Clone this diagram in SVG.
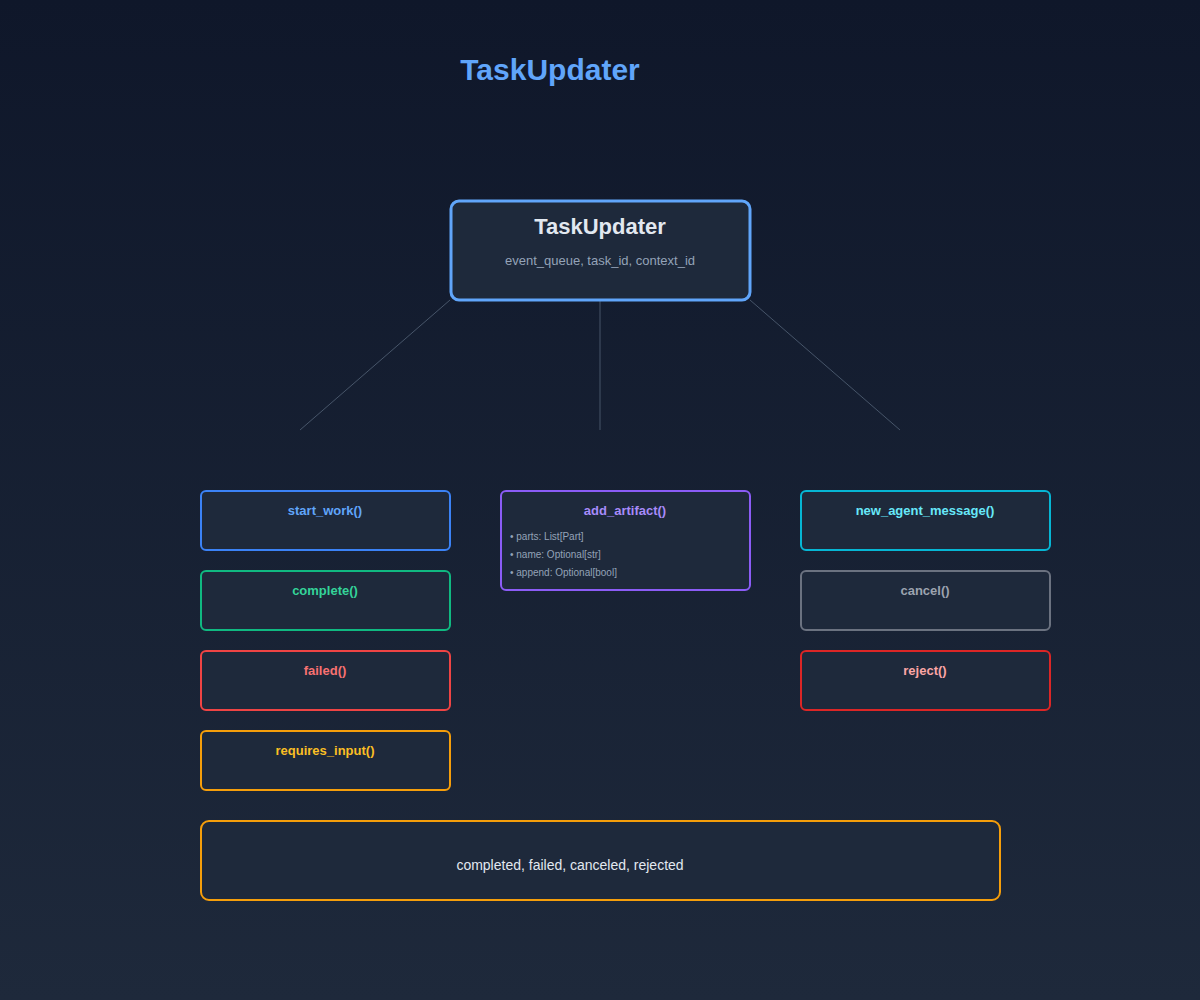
<svg xmlns="http://www.w3.org/2000/svg" width="1200" height="1000" viewBox="0 0 1200 1000">
<defs>
<linearGradient id="bg" x1="0" y1="0" x2="0" y2="1"><stop offset="0" stop-color="#0f172a"/><stop offset="1" stop-color="#1e293b"/></linearGradient>
<style>
.n{fill:#1e293b;stroke-width:2}
.t{font-family:"Liberation Sans",Arial,sans-serif;font-weight:bold;font-size:13px;text-anchor:middle}
.s{font-family:"Liberation Sans",Arial,sans-serif;font-size:10px;fill:#94a3b8}
.c{stroke:#475569;stroke-width:1;fill:none}
</style>
</defs>
<rect width="1200" height="1000" fill="url(#bg)"/>
<text x="550" y="80" font-family="Liberation Sans,Arial,sans-serif" font-size="30" font-weight="bold" fill="#60a5fa" text-anchor="middle">TaskUpdater</text>
<g id="connectors">
<line class="c" x1="450" y1="300" x2="300" y2="430"/>
<line class="c" x1="600" y1="300" x2="600" y2="430"/>
<line class="c" x1="750" y1="300" x2="900" y2="430"/>
</g>
<g id="root"><rect x="451" y="201" width="299" height="99" rx="8" fill="#1e293b" stroke="#60a5fa" stroke-width="3"/>
<text x="600" y="234" font-family="Liberation Sans,Arial,sans-serif" font-size="22" font-weight="bold" fill="#e2e8f0" text-anchor="middle">TaskUpdater</text>
<text x="600" y="265" font-family="Liberation Sans,Arial,sans-serif" font-size="13" fill="#94a3b8" text-anchor="middle">event_queue, task_id, context_id</text></g>
<g id="start_work"><rect class="n" x="201" y="491" width="249" height="59" rx="5" stroke="#3b82f6"/><text class="t" x="325" y="515" fill="#60a5fa">start_work()</text></g>
<g id="complete"><rect class="n" x="201" y="571" width="249" height="59" rx="5" stroke="#10b981"/><text class="t" x="325" y="595" fill="#34d399">complete()</text></g>
<g id="failed"><rect class="n" x="201" y="651" width="249" height="59" rx="5" stroke="#ef4444"/><text class="t" x="325" y="675" fill="#f87171">failed()</text></g>
<g id="requires_input"><rect class="n" x="201" y="731" width="249" height="59" rx="5" stroke="#f59e0b"/><text class="t" x="325" y="755" fill="#fbbf24">requires_input()</text></g>
<g id="add_artifact"><rect class="n" x="501" y="491" width="249" height="99" rx="5" stroke="#8b5cf6"/><text class="t" x="625" y="515" fill="#a78bfa">add_artifact()</text>
<text class="s" x="510" y="540">• parts: List[Part]</text><text class="s" x="510" y="558">• name: Optional[str]</text><text class="s" x="510" y="576">• append: Optional[bool]</text></g>
<g id="new_agent_message"><rect class="n" x="801" y="491" width="249" height="59" rx="5" stroke="#06b6d4"/><text class="t" x="925" y="515" fill="#67e8f9">new_agent_message()</text></g>
<g id="cancel"><rect class="n" x="801" y="571" width="249" height="59" rx="5" stroke="#6b7280"/><text class="t" x="925" y="595" fill="#9ca3af">cancel()</text></g>
<g id="reject"><rect class="n" x="801" y="651" width="249" height="59" rx="5" stroke="#dc2626"/><text class="t" x="925" y="675" fill="#fca5a5">reject()</text></g>
<g id="terminal"><rect class="n" x="201" y="821" width="799" height="79" rx="8" stroke="#f59e0b"/><text x="570" y="870" font-family="Liberation Sans,Arial,sans-serif" font-size="14" fill="#e2e8f0" text-anchor="middle">completed, failed, canceled, rejected</text></g>
</svg>
